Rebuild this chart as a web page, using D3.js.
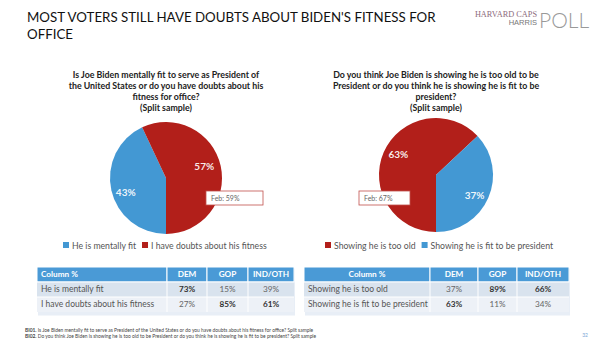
<!DOCTYPE html>
<html>
<head>
<meta charset="utf-8">
<script src="https://cdn.jsdelivr.net/npm/d3@7"></script>
<style>
  body { margin: 0; background: #fff; }
  svg { display: block; font-family: Lato, "Open Sans", sans-serif; }
</style>
</head>
<body>
<svg id="chart"></svg>
<script>
// data
const q1Title = ["Is Joe Biden mentally fit to serve as President of", "the United States or do you have doubts about his", "fitness for office?", "(Split sample)"];
const q1Labels = ["He is mentally fit", "I have doubts about his fitness"];
const q1Values = [43, 57];
const q1Feb = "Feb: 59%";

const q2Title = ["Do you think Joe Biden is showing he is too old to be", "President or do you think he is showing he is fit to be", "president?", "(Split sample)"];
const q2Labels = ["Showing he is too old", "Showing he is fit to be president"];
const q2Values = [63, 37];
const q2Feb = "Feb: 67%";

const tableCols = ["DEM", "GOP", "IND/OTH"];
const q1Table = [[73, 15, 39], [27, 85, 61]];
const q2Table = [[37, 89, 66], [63, 11, 34]];

const notes = [
  ["BI01.", " Is Joe Biden mentally fit to serve as President of the United States or do you have doubts about his fitness for office? Split sample"],
  ["BI02.", " Do you think Joe Biden is showing he is too old to be President or do you think he is showing he is fit to be president? Split sample"]
];

const width = 600, height = 343;
const BLUE = "#4398d3", RED = "#b21f1a";

const svg = d3.select("#chart")
  .attr("width", width)
  .attr("height", height)
  .attr("viewBox", [0, 0, width, height]);

// header title
svg.append("g")
  .attr("font-size", 13.3)
  .attr("fill", "#111")
  .selectAll("text")
  .data(["MOST VOTERS STILL HAVE DOUBTS ABOUT BIDEN'S FITNESS FOR", "OFFICE"])
  .join("text")
  .attr("x", 27)
  .attr("y", (d, i) => 22 + i * 17)
  .text(d => d);

// logo
const logo = svg.append("g");
logo.append("text").attr("x", 537).attr("y", 17).attr("text-anchor", "end")
  .attr("font-family", "Liberation Serif, serif").attr("font-size", 8.3).attr("fill", "#8c6b7c")
  .text("HARVARD CAPS");
logo.append("text").attr("x", 537).attr("y", 25).attr("text-anchor", "end")
  .attr("font-family", "Liberation Sans, sans-serif").attr("font-size", 7.5).attr("fill", "#777")
  .text("HARRIS");
logo.append("text").attr("x", 539).attr("y", 27.5)
  .attr("font-family", "Lato, sans-serif").attr("font-weight", 300).attr("font-size", 21).attr("fill", "#999")
  .text("POLL");

function drawPie(cfg) {
  const g = svg.append("g");
  // question
  g.append("g")
    .attr("font-size", 8.8)
    .attr("font-weight", "bold")
    .attr("fill", "#222")
    .attr("text-anchor", "middle")
    .selectAll("text")
    .data(cfg.title)
    .join("text")
    .attr("x", cfg.cx)
    .attr("y", (d, i) => 78 + i * 11)
    .text(d => d);

  const pie = d3.pie().sort(null).startAngle(Math.PI).endAngle(3 * Math.PI);
  const arcs = pie(cfg.values);
  const arc = d3.arc().innerRadius(0).outerRadius(cfg.r);
  const labelArc = d3.arc().innerRadius(cfg.r * 0.7).outerRadius(cfg.r * 0.7);

  const pg = g.append("g").attr("transform", `translate(${cfg.cx},${cfg.cy})`);
  pg.selectAll("path")
    .data(arcs)
    .join("path")
    .attr("d", arc)
    .attr("fill", (d, i) => cfg.colors[i]);

  pg.selectAll("text")
    .data(arcs)
    .join("text")
    .attr("transform", (d, i) => {
      const c = labelArc.centroid(d);
      return `translate(${c[0] + cfg.labelShift[i][0]},${c[1] + cfg.labelShift[i][1]})`;
    })
    .attr("text-anchor", "middle")
    .attr("dy", "0.35em")
    .attr("font-size", 10)
    .attr("font-weight", "bold")
    .attr("fill", "#fff")
    .attr("fill-opacity", 0.92)
    .text(d => d.data + "%");

  // feb box
  const fb = g.append("g").attr("transform", `translate(${cfg.feb[0]},${cfg.feb[1]})`);
  fb.append("rect").attr("width", cfg.feb[2]).attr("height", 14)
    .attr("fill", "#fff").attr("stroke", "#c0504d").attr("stroke-width", 0.8);
  fb.append("text").attr("x", 5).attr("y", 10).attr("font-size", 7).attr("fill", "#666")
    .text(cfg.febText);

  // legend
  const lg = g.append("g").attr("font-size", 8.7).attr("fill", "#555");
  let x = cfg.legendX;
  cfg.labels.forEach((lab, i) => {
    lg.append("rect").attr("x", x).attr("y", 242).attr("width", 6).attr("height", 6).attr("fill", cfg.colors[i]);
    const t = lg.append("text").attr("x", x + 9).attr("y", 248.5).text(lab);
    x += 9 + t.node().getComputedTextLength() + 6;
  });
}

drawPie({
  title: q1Title, values: q1Values, labels: q1Labels, colors: [BLUE, RED],
  cx: 166, cy: 178, r: 56, labelShift: [[-2, 6],[0, -3]],
  feb: [206, 191, 57], febText: q1Feb, legendX: 63
});
drawPie({
  title: q2Title, values: q2Values, labels: q2Labels, colors: [RED, BLUE],
  cx: 436, cy: 175, r: 57, labelShift: [[-1, -5], [2, 5]],
  feb: [359, 191, 51], febText: q2Feb, legendX: 325
});

function drawTable(cfg) {
  const g = svg.append("g");
  const x = d3.scaleOrdinal().domain(["label", ...tableCols]).range(cfg.edges.slice(0, 4));
  const xEnd = d3.scaleOrdinal().domain(["label", ...tableCols]).range(cfg.edges.slice(1));
  const y = d3.scaleBand().domain(["head", 0, 1]).range([267, 312]);
  const cols = ["label", ...tableCols];

  // shadow
  g.append("rect").attr("x", cfg.edges[0]).attr("y", 267).attr("width", cfg.edges[4] - cfg.edges[0])
    .attr("height", 47).attr("fill", "#e8eef6").attr("transform", "translate(1,1.5)");

  // header
  cols.forEach(c => {
    g.append("rect").attr("x", x(c)).attr("y", y("head"))
      .attr("width", xEnd(c) - x(c)).attr("height", y.bandwidth())
      .attr("fill", "#4a9ad6").attr("stroke", "#fff").attr("stroke-width", 1);
    const center = c !== "label" || cfg.centerHead;
    g.append("text")
      .attr("x", center ? (x(c) + xEnd(c)) / 2 : x(c) + 4)
      .attr("y", y("head") + y.bandwidth() / 2)
      .attr("dy", "0.35em")
      .attr("text-anchor", center ? "middle" : "start")
      .attr("font-size", 8.2).attr("font-weight", "bold").attr("fill", "#fff")
      .text(c === "label" ? "Column %" : c);
  });

  cfg.rows.forEach((row, ri) => {
    g.append("rect").attr("x", cfg.edges[0]).attr("y", y(ri))
      .attr("width", cfg.edges[4] - cfg.edges[0]).attr("height", y.bandwidth())
      .attr("fill", ri === 0 ? "#d9e3ee" : "#edf1f7");
    cols.slice(1).forEach(c => {
      g.append("line").attr("x1", x(c)).attr("x2", x(c)).attr("y1", y(ri)).attr("y2", y(ri) + y.bandwidth())
        .attr("stroke", "#fff").attr("stroke-width", 1);
    });
    g.append("line").attr("x1", cfg.edges[0]).attr("x2", cfg.edges[4]).attr("y1", y(ri)).attr("y2", y(ri))
      .attr("stroke", "#fff").attr("stroke-width", 1);
    g.append("text").attr("x", x("label") + 4).attr("y", y(ri) + y.bandwidth() / 2).attr("dy", "0.35em")
      .attr("font-size", 8.5).attr("fill", "#555").text(cfg.labels[ri]);
    row.forEach((v, ci) => {
      const c = tableCols[ci];
      g.append("text").attr("x", (x(c) + xEnd(c)) / 2).attr("y", y(ri) + y.bandwidth() / 2).attr("dy", "0.35em")
        .attr("text-anchor", "middle").attr("font-size", 8.2)
        .attr("font-weight", v > 50 ? "bold" : "normal")
        .attr("fill", v > 50 ? "#333" : "#666")
        .text(v + "%");
    });
  });
}

drawTable({ rows: q1Table, labels: q1Labels, edges: [37, 167, 207, 248, 294], centerHead: false });
drawTable({ rows: q2Table, labels: q2Labels, edges: [304, 430, 478, 517, 569], centerHead: true });

// footnotes
const fn = svg.append("g").attr("font-size", 4.9).attr("fill", "#444");
notes.forEach((n, i) => {
  const t = fn.append("text").attr("x", 25).attr("y", 332 + i * 6);
  t.append("tspan").attr("font-weight", "bold").text(n[0]);
  t.append("tspan").text(n[1]);
});
svg.append("text").attr("x", 588).attr("y", 337).attr("text-anchor", "end")
  .attr("font-size", 5).attr("fill", "#7aa7d6").text("32");
</script>
</body>
</html>
